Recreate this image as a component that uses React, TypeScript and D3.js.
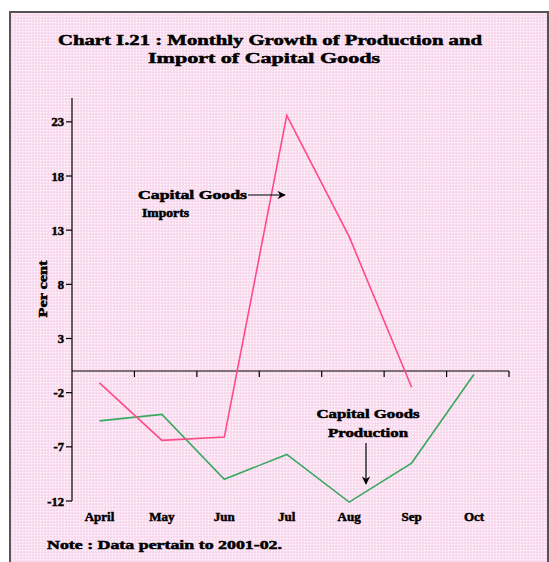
import React from "react";
import * as d3 from "d3";

const months = ["April", "May", "Jun", "Jul", "Aug", "Sep", "Oct"];
const importsGrowth = [-1.1, -6.4, -6.1, 23.6, 12.4, -1.5];
const productionGrowth = [-4.6, -4.0, -10.0, -7.7, -12.1, -8.5, -0.3];
const yTicks = [23, 18, 13, 8, 3, -2, -7, -12];

const W = 549;
const H = 562;
const FONT = "'Liberation Serif', 'DejaVu Serif', serif";

export default function App() {
  const x = d3.scaleBand<string>().domain(months).range([72, 509]).paddingInner(0).paddingOuter(0);
  const bw = x.bandwidth();
  const px = (m: string) => (x(m) as number) + bw * 0.44;
  const y = d3.scaleLinear().domain([-12, 25.2]).range([501, 98]);

  const line = d3
    .line<[string, number]>()
    .x((d) => px(d[0]))
    .y((d) => y(d[1]));

  const impPts: [string, number][] = importsGrowth.map((v, i) => [months[i], v]);
  const prodPts: [string, number][] = productionGrowth.map((v, i) => [months[i], v]);

  const boundaries = months.map((m) => (x(m) as number) + bw);

  const txt = { fontFamily: FONT, fontWeight: 700, fill: "#000", stroke: "#000", strokeWidth: 0.5 } as const;

  return (
    <svg width={W} height={H} style={{ position: "absolute", left: 0, top: 0 }} xmlns="http://www.w3.org/2000/svg">
      <defs>
        <pattern id="dots" width="3" height="3" patternUnits="userSpaceOnUse">
          <rect width="3" height="3" fill="#f9d9ee" />
          <rect x="1" y="1" width="1.3" height="1.3" fill="#ffffff" />
        </pattern>
        <marker id="arrR" viewBox="0 0 10 10" refX="9" refY="5" markerWidth="7" markerHeight="7" orient="auto">
          <path d="M0,0 L10,5 L0,10 L3,5 Z" fill="#000" />
        </marker>
      </defs>
      <rect x={0} y={0} width={W} height={H} fill="#fff" />
      <rect x={10} y={12} width={W - 11} height={H + 10} fill="url(#dots)" stroke="#555" strokeWidth={2} />

      {/* Title */}
      <text x={270} y={45} textAnchor="middle" fontSize={14.5} textLength={424} lengthAdjust="spacingAndGlyphs" {...txt}>
        Chart I.21 : Monthly Growth of Production and
      </text>
      <text x={264} y={63} textAnchor="middle" fontSize={14.5} textLength={232} lengthAdjust="spacingAndGlyphs" {...txt}>
        Import of Capital Goods
      </text>

      {/* Y axis */}
      <line x1={72} x2={72} y1={y.range()[1]} y2={y(-12)} stroke="#000" strokeWidth={1.2} />
      {yTicks.map((t) => (
        <g key={t}>
          <line x1={66} x2={72} y1={y(t)} y2={y(t)} stroke="#000" strokeWidth={1.2} />
          <text x={64} y={y(t) + 4.5} textAnchor="end" fontSize={12.5} {...txt}>
            {t}
          </text>
        </g>
      ))}
      <text
        transform={`translate(47,289) rotate(-90)`}
        textAnchor="middle"
        fontSize={11.5}
        textLength={57}
        lengthAdjust="spacingAndGlyphs"
        {...txt}
      >
        Per cent
      </text>

      {/* X axis along zero */}
      <line x1={72} x2={509} y1={y(0)} y2={y(0)} stroke="#000" strokeWidth={1.2} />
      {boundaries.map((b, i) => (
        <line key={i} x1={b} x2={b} y1={y(0)} y2={y(0) + 6} stroke="#000" strokeWidth={1.2} />
      ))}
      {months.map((m) => (
        <text key={m} x={px(m)} y={521} textAnchor="middle" fontSize={13} {...txt}>
          {m}
        </text>
      ))}

      {/* Series */}
      <path d={line(prodPts) || ""} fill="none" stroke="#3aa860" strokeWidth={1.6} />
      <path d={line(impPts) || ""} fill="none" stroke="#ff4a86" strokeWidth={1.6} />

      {/* Annotations */}
      <text x={138} y={199} fontSize={12} textLength={109} lengthAdjust="spacingAndGlyphs" {...txt}>
        Capital Goods
      </text>
      <text x={142} y={217} fontSize={12} textLength={47} lengthAdjust="spacingAndGlyphs" {...txt}>
        Imports
      </text>
      <line x1={248} x2={285} y1={195} y2={195} stroke="#000" strokeWidth={1.2} markerEnd="url(#arrR)" />

      <text x={368} y={418} textAnchor="middle" fontSize={12} textLength={103} lengthAdjust="spacingAndGlyphs" {...txt}>
        Capital Goods
      </text>
      <text x={368} y={437} textAnchor="middle" fontSize={12} textLength={80} lengthAdjust="spacingAndGlyphs" {...txt}>
        Production
      </text>
      <line x1={366} x2={366} y1={443} y2={484} stroke="#000" strokeWidth={1.2} markerEnd="url(#arrR)" />

      {/* Note */}
      <text x={47} y={549} fontSize={12.5} textLength={235} lengthAdjust="spacingAndGlyphs" {...txt}>
        Note : Data pertain to 2001-02.
      </text>
    </svg>
  );
}
